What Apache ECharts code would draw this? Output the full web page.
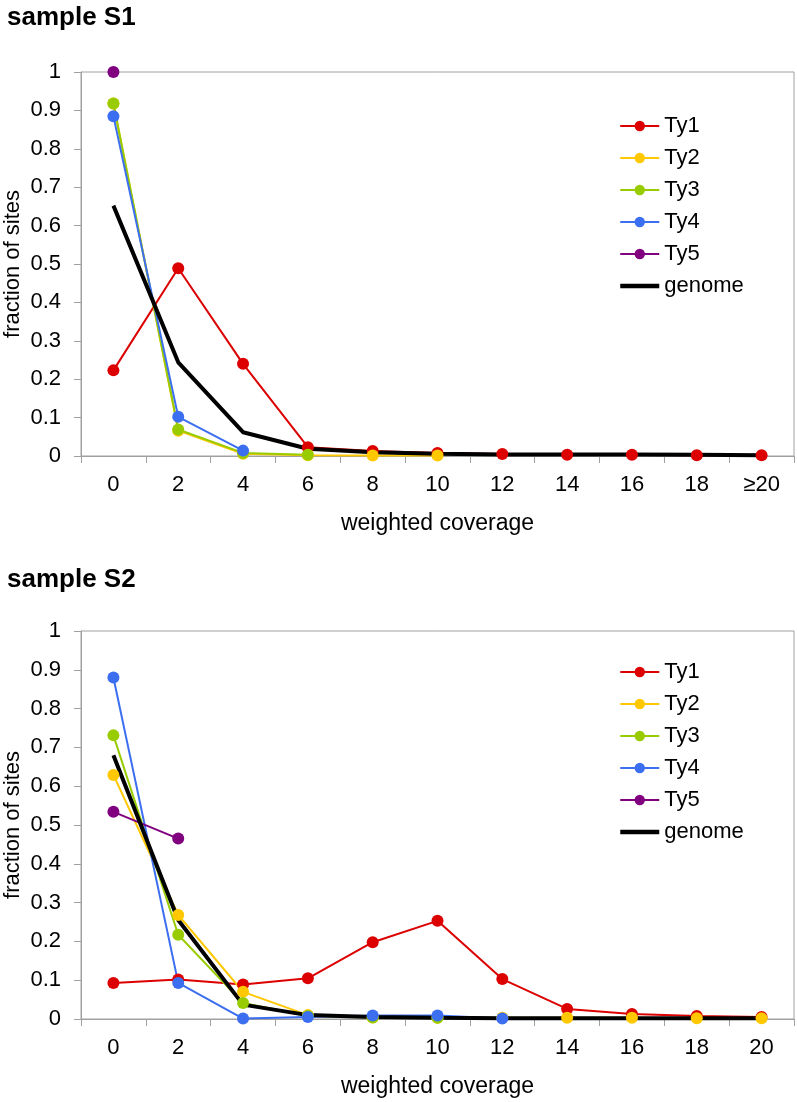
<!DOCTYPE html>
<html>
<head>
<meta charset="utf-8">
<script src="https://cdn.jsdelivr.net/npm/echarts@6/dist/echarts.min.js"></script>
<style>
html,body{margin:0;padding:0;background:#fff;}
#chart{width:797px;height:1102px;}
</style>
</head>
<body>
<div id="chart"></div>
<script>
// ---- data ----
const catsS1 = ['0','2','4','6','8','10','12','14','16','18','≥20'];
const catsS2 = ['0','2','4','6','8','10','12','14','16','18','20'];
const seriesNames = ['Ty1','Ty2','Ty3','Ty4','Ty5','genome'];

const s1Ty1 = [0.223, 0.489, 0.240, 0.023, 0.013, 0.008, 0.005, 0.003, 0.003, 0.002, 0.002];
const s1Ty2 = [0.918, 0.066, 0.006, 0.002, 0.001, 0.001];
const s1Ty3 = [0.918, 0.069, 0.008, 0.003];
const s1Ty4 = [0.885, 0.102, 0.014];
const s1Ty5 = [1.0];
const s1Genome = [0.652, 0.244, 0.062, 0.019, 0.010, 0.006, 0.004, 0.004, 0.004, 0.003, 0.002];

const s2Ty1 = [0.093, 0.102, 0.089, 0.105, 0.198, 0.253, 0.103, 0.026, 0.013, 0.008, 0.005];
const s2Ty2 = [0.629, 0.268, 0.070, 0.010, 0.004, 0.003, 0.003, 0.003, 0.003, 0.002, 0.002];
const s2Ty3 = [0.731, 0.217, 0.041, 0.008, 0.004, 0.003];
const s2Ty4 = [0.880, 0.093, 0.001, 0.005, 0.009, 0.009, 0.001];
const s2Ty5 = [0.534, 0.465];
const s2Genome = [0.680, 0.255, 0.037, 0.010, 0.005, 0.003, 0.002, 0.002, 0.002, 0.002, 0.002];

const yTicks = [0, 0.1, 0.2, 0.3, 0.4, 0.5, 0.6, 0.7, 0.8, 0.9, 1];

// ---- styles ----
const colors = {Ty1:'#dc0000', Ty2:'#ffc800', Ty3:'#99cc00', Ty4:'#3c6ef0', Ty5:'#800080', genome:'#000000'};
const FONT = 'Liberation Sans, Arial, sans-serif';
const axisGray = '#a0a0a0';

function xAxisDef(idx, cats) {
  return {
    type:'category', gridIndex: idx, data: cats, boundaryGap: true,
    name: 'weighted coverage', nameLocation:'middle', nameGap: 56, nameMoveOverlap:false,
    nameTextStyle:{fontFamily:FONT, fontSize:23, color:'#000'},
    axisLine:{show:true, lineStyle:{color:axisGray, width:1}},
    axisTick:{show:true, length:7, inside:false, alignWithLabel:false, lineStyle:{color:axisGray}},
    axisLabel:{fontFamily:FONT, fontSize:22, color:'#000', margin:18, interval:0},
    splitLine:{show:false}
  };
}
function yAxisDef(idx) {
  return {
    type:'value', gridIndex: idx, min: yTicks[0], max: yTicks[yTicks.length-1], interval: 0.1,
    name:'fraction of sites', nameLocation:'middle', nameGap: 57, nameMoveOverlap:false,
    nameTextStyle:{fontFamily:FONT, fontSize:22, color:'#000'},
    axisLine:{show:true, lineStyle:{color:axisGray, width:1}},
    axisTick:{show:true, length:7, lineStyle:{color:axisGray}},
    axisLabel:{fontFamily:FONT, fontSize:22, color:'#000', margin:20,
      formatter: v => String(Math.round(v*10)/10)},
    splitLine:{show:false}
  };
}
function mkSeries(idx, name, data) {
  const isG = name === 'genome';
  return {
    name, type:'line', xAxisIndex: idx, yAxisIndex: idx, data,
    symbol: isG ? 'none' : 'circle', symbolSize: 12, showSymbol: !isG,
    color: colors[name],
    lineStyle:{width: isG ? 4 : 2, color: colors[name]},
    itemStyle:{color: colors[name]},
    emphasis:{disabled:true}, animation:false
  };
}
function legendDef(top) {
  return {
    orient:'vertical', left: 613, top: top,
    data: seriesNames.map(n => n === 'genome'
      ? {name:n, itemStyle:{opacity:0}, lineStyle:{width:4.5, color:'#000'}}
      : {name:n, lineStyle:{width:2}}),
    itemWidth: 39, itemHeight: 13, itemGap: 10,
    textStyle:{fontFamily:FONT, fontSize:22, color:'#000', lineHeight:22},
    selectedMode:false
  };
}

const option = {
  backgroundColor:'#fff',
  animation:false,
  title:[
    {text:'sample S1', left:2, top:0, textStyle:{fontFamily:FONT, fontSize:26, fontWeight:'bold', color:'#000'}},
    {text:'sample S2', left:2, top:562, textStyle:{fontFamily:FONT, fontSize:26, fontWeight:'bold', color:'#000'}}
  ],
  legend:[legendDef(110), legendDef(656)],
  grid:[
    {left:81, top:72, width:713, height:384, show:true, borderColor:axisGray, borderWidth:1, containLabel:false, outerBoundsMode:'none'},
    {left:81, top:631, width:713, height:388, show:true, borderColor:axisGray, borderWidth:1, containLabel:false, outerBoundsMode:'none'}
  ],
  xAxis:[xAxisDef(0, catsS1), xAxisDef(1, catsS2)],
  yAxis:[yAxisDef(0), yAxisDef(1)],
  series:[
    mkSeries(0,'Ty1',s1Ty1), mkSeries(0,'Ty2',s1Ty2), mkSeries(0,'Ty3',s1Ty3),
    mkSeries(0,'Ty4',s1Ty4), mkSeries(0,'Ty5',s1Ty5), mkSeries(0,'genome',s1Genome),
    mkSeries(1,'Ty1',s2Ty1), mkSeries(1,'Ty2',s2Ty2), mkSeries(1,'Ty3',s2Ty3),
    mkSeries(1,'Ty4',s2Ty4), mkSeries(1,'Ty5',s2Ty5), mkSeries(1,'genome',s2Genome)
  ]
};

const chart = echarts.init(document.getElementById('chart'), null, {renderer:'canvas'});
chart.setOption(option);
</script>
</body>
</html>
